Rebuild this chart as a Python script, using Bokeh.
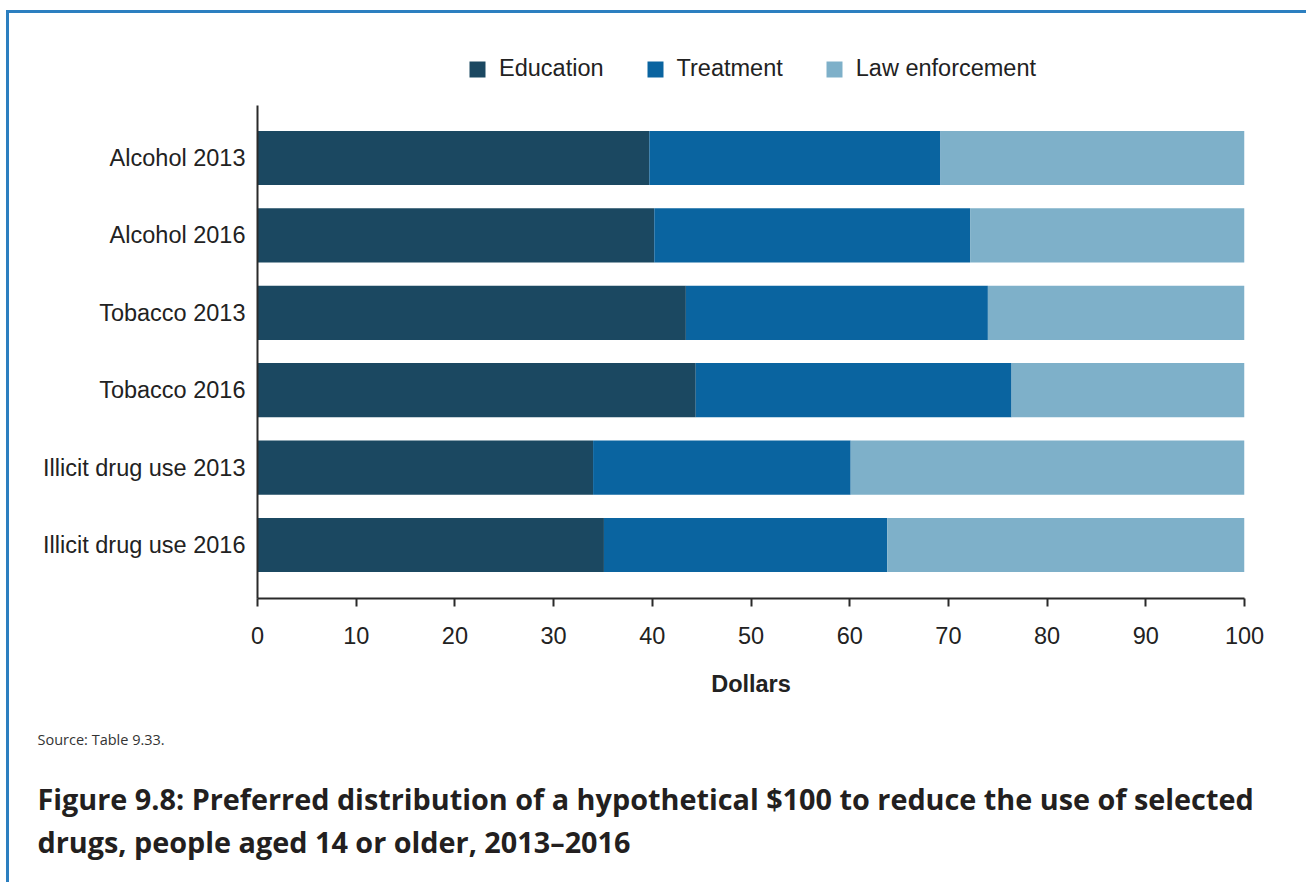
from bokeh.plotting import figure
from bokeh.models import Range1d, Legend, LegendItem, FixedTicker, Title
from bokeh.embed import file_html
from bokeh.resources import INLINE

# ---- data ----
categories = ["Alcohol 2013", "Alcohol 2016", "Tobacco 2013", "Tobacco 2016",
              "Illicit drug use 2013", "Illicit drug use 2016"]
education = [39.7, 40.2, 43.4, 44.4, 34.0, 35.1]
treatment = [29.5, 32.0, 30.6, 32.0, 26.1, 28.7]
law_enforcement = [30.8, 27.8, 26.0, 23.6, 39.9, 36.2]
series_names = ["Education", "Treatment", "Law enforcement"]
series_keys = ["education", "treatment", "law"]
colors = ["#1b4861", "#0a64a0", "#7eb0c9"]
x_ticks = [0, 10, 20, 30, 40, 50, 60, 70, 80, 90, 100]
x_label = "Dollars"
source_line = "Source: Table 9.33."
caption_lines = ["Figure 9.8: Preferred distribution of a hypothetical $100 to reduce the use of selected",
                 "drugs, people aged 14 or older, 2013\u20132016"]

n = len(categories)
ypos = [n - i for i in range(n)]  # first category on top
data = dict(y=ypos, education=education, treatment=treatment, law=law_enforcement)

p = figure(frame_width=987, frame_height=578, output_backend="svg", toolbar_location=None,
           y_range=Range1d(0.309, 7.776), x_range=Range1d(0, 100),
           min_border_left=257, min_border_right=62, min_border_top=20, min_border_bottom=284)

renderers = p.hbar_stack(series_keys, y="y", height=0.70, color=colors, source=data,
                         line_color=None)

p.xgrid.visible = False
p.ygrid.visible = False
p.outline_line_color = None
p.background_fill_color = "white"
p.border_fill_color = None

axis_color = "#2a2a2a"
font = "Liberation Sans"
fs = "23.5px"

xa = p.xaxis[0]
xa.ticker = FixedTicker(ticks=x_ticks)
xa.axis_line_width = 2
xa.axis_line_color = axis_color
xa.major_tick_line_width = 2
xa.major_tick_line_color = axis_color
xa.major_tick_out = 8
xa.major_tick_in = 0
xa.minor_tick_line_color = None
xa.major_label_text_font = font
xa.major_label_text_font_size = fs
xa.major_label_text_color = "#222222"
xa.major_label_standoff = 20
xa.axis_label = x_label
xa.axis_label_text_font = font
xa.axis_label_text_font_size = fs
xa.axis_label_text_font_style = "bold"
xa.axis_label_text_color = "#222222"
xa.axis_label_standoff = 24

ya = p.yaxis[0]
ya.ticker = FixedTicker(ticks=ypos)
ya.major_label_overrides = {y: c for y, c in zip(ypos, categories)}
ya.bounds = (0.309, 6.678)
ya.axis_line_width = 2
ya.axis_line_color = axis_color
ya.major_tick_out = 0
ya.major_tick_in = 0
ya.major_tick_line_color = None
ya.minor_tick_line_color = None
ya.major_label_text_font = font
ya.major_label_text_font_size = fs
ya.major_label_text_color = "#222222"
ya.major_label_standoff = 12

legend = Legend(items=[LegendItem(label=nm, renderers=[r]) for nm, r in zip(series_names, renderers)],
                orientation="horizontal", location=(210, 516),
                label_text_font=font, label_text_font_size=fs, label_text_color="#222222",
                glyph_width=20, glyph_height=20, label_standoff=12, spacing=41,
                padding=5, margin=0, border_line_color=None, background_fill_alpha=0)
p.add_layout(legend, "center")

p.add_layout(Title(text=source_line, align="left", offset=-220, standoff=56,
                   text_font="Open Sans", text_font_style="normal", text_font_size="14.5px",
                   text_color="#333333"), "below")
for line, so in zip(caption_lines, [0, 5]):
    p.add_layout(Title(text=line, align="left", offset=-220, standoff=so,
                       text_font="Open Sans", text_font_style="bold", text_font_size="28.8px",
                       text_color="#231f20"), "below")

p.styles = {"box-shadow": "inset 6px 10px 0 0 white, inset 9px 13px 0 0 #2c7fc0",
            "background-color": "white"}

open("out.html", "w").write(file_html(p, INLINE))
